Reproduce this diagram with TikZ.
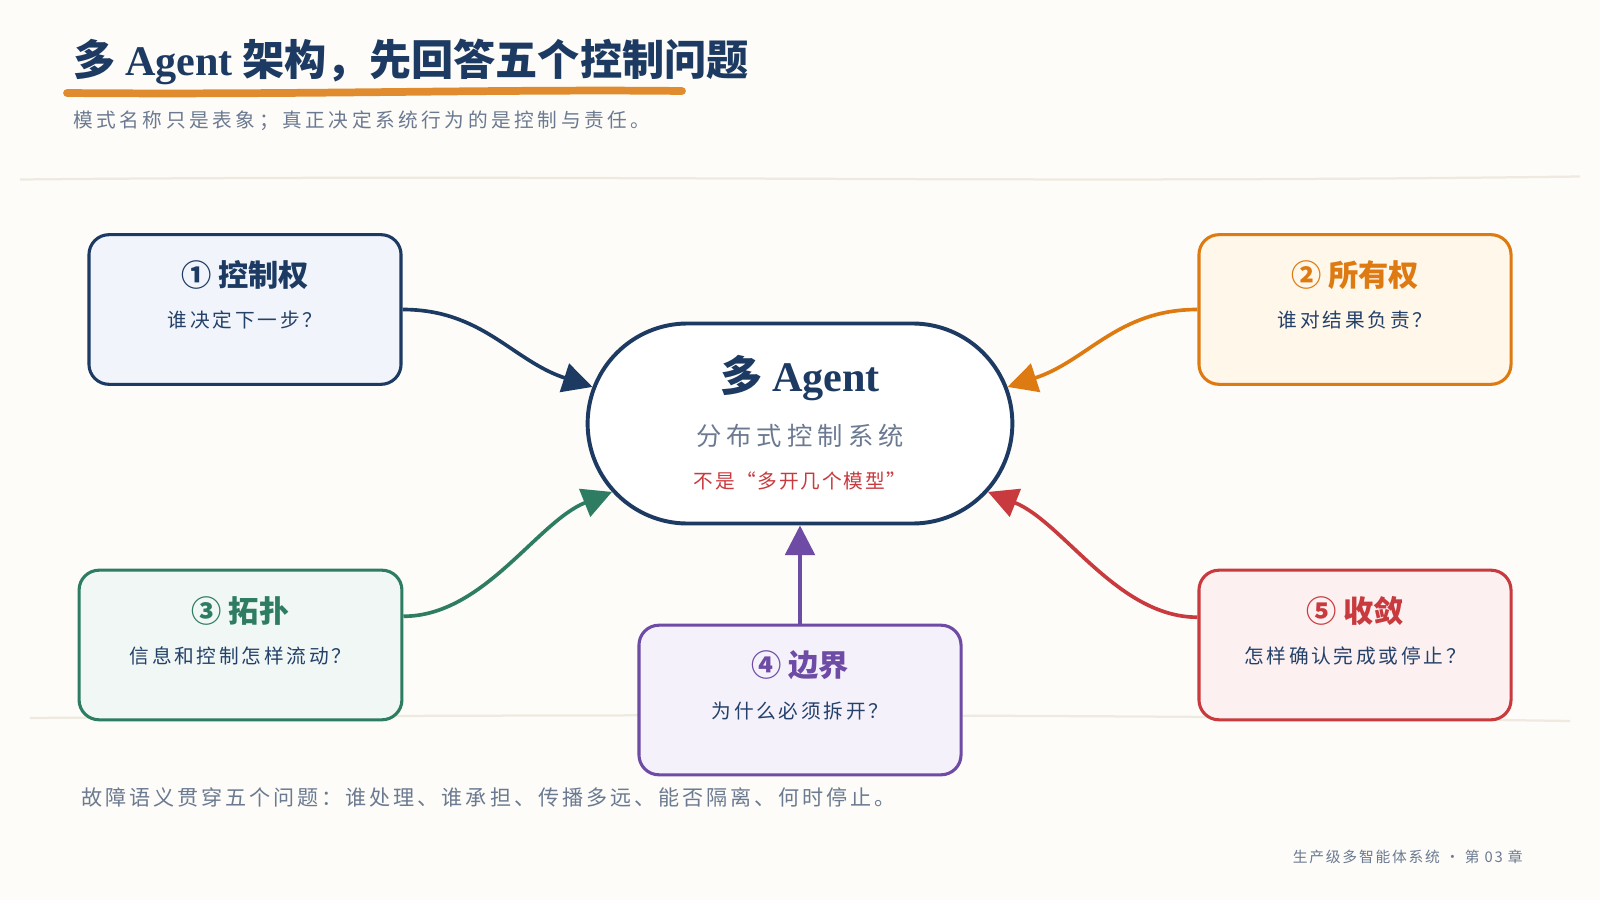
\documentclass[tikz,border=0pt]{standalone}
\usepackage{fontspec}
\setmainfont{Noto Sans CJK SC}
\newfontfamily\agentfont{Liberation Serif}
\usepackage{tikz}
\usetikzlibrary{arrows.meta,calc,shapes.misc}

\definecolor{paper}{HTML}{FDFCF8}
\definecolor{navy}{HTML}{1C3A62}
\definecolor{ochre}{HTML}{DE7A12}
\definecolor{pine}{HTML}{2E7C62}
\definecolor{plum}{HTML}{6E4BA4}
\definecolor{brick}{HTML}{C83A3E}
\definecolor{slate}{HTML}{6B7A91}
\definecolor{ink}{HTML}{24416A}
\definecolor{rulegray}{HTML}{EEEADF}
\definecolor{marker}{HTML}{E08C2E}
\definecolor{navyfill}{HTML}{F1F5FB}
\definecolor{ochrefill}{HTML}{FFF7EA}
\definecolor{pinefill}{HTML}{F0F7F4}
\definecolor{plumfill}{HTML}{F4F1FA}
\definecolor{brickfill}{HTML}{FDF0F0}

\tikzset{
  qbox/.style={draw=#1, fill=#1fill, line width=2.2pt, rounded corners=0.5cm,
    minimum width=7.8cm, minimum height=3.74cm, inner sep=0pt},
  qhead/.style={text=#1, inner sep=0pt, font=\fontsize{21.5}{25}\selectfont\bfseries},
  qsub/.style={text=ink, inner sep=0pt,
    font=\fontsize{14}{17}\selectfont\addfontfeature{LetterSpace=14}},
  link/.style={draw=#1, line width=2.6pt, -{Triangle[length=21pt,width=21pt]}},
}

\begin{document}
\begin{tikzpicture}[x=0.025cm, y=-0.025cm]
\fill [paper] (0,0) rectangle (1600,900);
\useasboundingbox (0,0) rectangle (1600,900);

% heading
\node [anchor=west, inner sep=0pt, text=navy, font=\fontsize{30}{35}\selectfont\bfseries] (title) at (73,62) {多 {\agentfont Agent} 架构，先回答五个控制问题};
\draw [marker, line width=5.5pt, line cap=round] (67,93) .. controls (300,95) and (500,89) .. (682,91);
\node [anchor=west, inner sep=0pt, text=slate, font=\fontsize{14}{17}\selectfont\addfontfeature{LetterSpace=18}] (lede) at (73,121) {模式名称只是表象；真正决定系统行为的是控制与责任。};

\draw [rulegray, line width=1.6pt] (20,179.5) .. controls (600,174) and (1000,184) .. (1580,176.5);
\draw [rulegray, line width=1.6pt] (30,718) .. controls (600,714) and (1100,714) .. (1570,721);

% hub
\node [rounded rectangle, draw=navy, fill=white, line width=2.8pt, minimum width=10.85cm, minimum height=5cm] (hub) at (800,423.5) {};
\node [text=navy, inner sep=0pt, font=\fontsize{30}{35}\selectfont\bfseries] (hub-t) at (800,378) {多 {\agentfont Agent}};
\node [text=slate, inner sep=0pt, font=\fontsize{18}{22}\selectfont\addfontfeature{LetterSpace=20}] (hub-s) at (800,436) {分布式控制系统};
\node [text=brick, inner sep=0pt, font=\fontsize{14}{17}\selectfont\addfontfeature{LetterSpace=9}] (hub-n) at (800,481) {不是“多开几个模型”};

% the five questions
\node [qbox=navy] (ctrl) at (245,309.5) {};
\node [qhead=navy] (ctrl-t) at ($(ctrl.north)+(0,42)$) {① 控制权};
\node [qsub] (ctrl-s) at ($(ctrl.north)+(0,87)$) {谁决定下一步？};

\node [qbox=ochre] (own) at (1355,309.5) {};
\node [qhead=ochre] (own-t) at ($(own.north)+(0,42)$) {② 所有权};
\node [qsub] (own-s) at ($(own.north)+(0,87)$) {谁对结果负责？};

\node [qbox=pine, minimum width=8.07cm] (topo) at (240.5,645) {};
\node [qhead=pine] (topo-t) at ($(topo.north)+(0,42)$) {③ 拓扑};
\node [qsub] (topo-s) at ($(topo.north)+(0,87)$) {信息和控制怎样流动？};

\node [qbox=plum, minimum width=8.05cm] (bound) at (800,700) {};
\node [qhead=plum] (bound-t) at ($(bound.north)+(0,42)$) {④ 边界};
\node [qsub] (bound-s) at ($(bound.north)+(0,87)$) {为什么必须拆开？};

\node [qbox=brick] (conv) at (1355,645) {};
\node [qhead=brick] (conv-t) at ($(conv.north)+(0,42)$) {⑤ 收敛};
\node [qsub] (conv-s) at ($(conv.north)+(0,87)$) {怎样确认完成或停止？};

\draw [link=navy] (ctrl.east) .. controls +(80,0) and +(-80,-26) .. (hub.170);
\draw [link=ochre] (own.west) .. controls +(-80,0) and +(80,-26) .. (hub.10);
\draw [link=pine] (topo.10) .. controls +(80,0) and +(-75,30) .. (hub.200);
\draw [link=brick] (conv.170) .. controls +(-80,0) and +(75,30) .. (hub.340);
\draw [link=plum] (bound.north) -- (hub.south);

% footer
\node [anchor=west, inner sep=0pt, text=slate, font=\fontsize{15}{18}\selectfont\addfontfeature{LetterSpace=14}] (foot) at (81,797) {故障语义贯穿五个问题：谁处理、谁承担、传播多远、能否隔离、何时停止。};
\node [anchor=east, inner sep=0pt, text=slate, font=\fontsize{10.5}{13}\selectfont\addfontfeature{LetterSpace=12}] (colophon) at (1523,857) {生产级多智能体系统 · 第 03 章};
\end{tikzpicture}
\end{document}
